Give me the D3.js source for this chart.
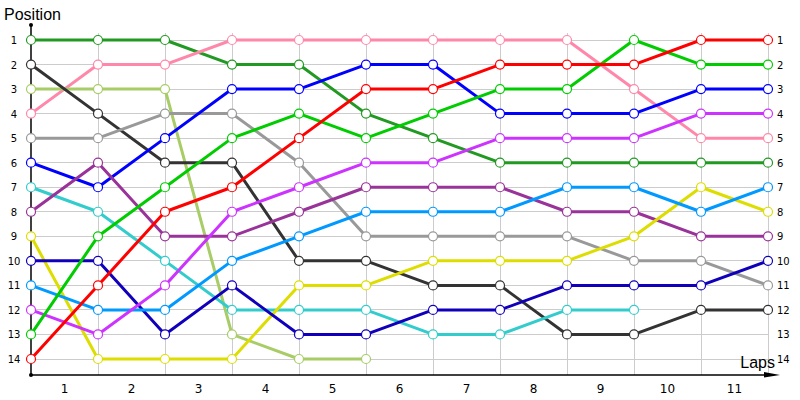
<!DOCTYPE html>
<html><head><meta charset="utf-8">
<script src="https://cdn.jsdelivr.net/npm/d3@7"></script>
<style>body{margin:0;background:#fff}svg{display:block}text{font-family:"DejaVu Sans",Verdana,sans-serif}</style>
</head><body><svg id="c" width="800" height="400"></svg>
<script>
const laps = ["1","2","3","4","5","6","7","8","9","10","11"];
const positions = [1,2,3,4,5,6,7,8,9,10,11,12,13,14];
const seriesNames = ["DarkGreen","Pink","LightGreen","Black","Gray","Blue","Cyan","Purple","Yellow","DarkBlue","LightBlue","Violet","Green","Red"];
const seriesColors = ["#229922","#ff88aa","#a8cc66","#333333","#999999","#0000ff","#33cccc","#993399","#dddd00","#1100bb","#0099ff","#cc33ff","#00cc00","#ff0000"];
const darkGreen = [1,1,1,2,2,4,5,6,6,6,6,6];
const pink = [4,2,2,1,1,1,1,1,1,3,5,5];
const lightGreen = [3,3,3,13,14,14];
const black = [2,4,6,6,10,10,11,11,13,13,12,12];
const gray = [5,5,4,4,6,9,9,9,9,10,10,11];
const blue = [6,7,5,3,3,2,2,4,4,4,3,3];
const cyan = [7,8,10,12,12,12,13,13,12,12];
const purple = [8,6,9,9,8,7,7,7,8,8,9,9];
const yellow = [9,14,14,14,11,11,10,10,10,9,7,8];
const darkBlue = [10,10,13,11,13,13,12,12,11,11,11,10];
const lightBlue = [11,12,12,10,9,8,8,8,7,7,8,7];
const violet = [12,13,11,8,7,6,6,5,5,5,4,4];
const green = [13,9,7,5,4,5,4,3,3,1,2,2];
const red = [14,11,8,7,5,3,3,2,2,2,1,1];
const seriesValues = [darkGreen,pink,lightGreen,black,gray,blue,cyan,purple,yellow,darkBlue,lightBlue,violet,green,red];

const svg = d3.select("#c");
const x = d3.scaleLinear().domain([0,11]).range([31,768]);
const y = d3.scaleLinear().domain([1,14]).range([40,359]);
const axisY = 375;

const grid = svg.append("g");
grid.selectAll("line.h").data(positions).join("line")
  .attr("x1",x(0)).attr("x2",x(11)).attr("y1",d=>y(d)).attr("y2",d=>y(d))
  .attr("stroke","#cccccc").attr("stroke-width",1).attr("shape-rendering","crispEdges");
grid.selectAll("line.v").data(d3.range(1,12)).join("line")
  .attr("x1",d=>x(d)).attr("x2",d=>x(d)).attr("y1",33).attr("y2",axisY)
  .attr("stroke","#cccccc").attr("stroke-width",1).attr("shape-rendering","crispEdges");

// axes
svg.append("line").attr("x1",x(0)).attr("x2",x(0)).attr("y1",25).attr("y2",axisY)
  .attr("stroke","#000").attr("stroke-width",1.5);
svg.append("circle").attr("cx",x(0)).attr("cy",25).attr("r",2).attr("fill","#000");
svg.append("circle").attr("cx",x(0)).attr("cy",axisY).attr("r",2).attr("fill","#000");
svg.append("line").attr("x1",x(0)).attr("x2",772).attr("y1",axisY).attr("y2",axisY)
  .attr("stroke","#000").attr("stroke-width",1.5);
svg.append("path").attr("d",`M764,${axisY-3} L780,${axisY} L764,${axisY+2.5} Z`).attr("fill","#000");

// lap labels
svg.selectAll("text.lap").data(laps).join("text")
  .attr("x",(d,i)=>x(i+0.5)).attr("y",393).attr("text-anchor","middle")
  .attr("font-size",12).attr("fill","#000").text(d=>d);

// position labels
svg.selectAll("text.pl").data(positions).join("text")
  .attr("x",14).attr("y",d=>y(d)+4).attr("text-anchor","middle")
  .attr("font-size",10).attr("fill","#000").text(d=>d);
svg.selectAll("text.pr").data(positions).join("text")
  .attr("x",777).attr("y",d=>y(d)+4).attr("text-anchor","start")
  .attr("font-size",10).attr("fill","#000").text(d=>d);

svg.append("text").attr("x",4).attr("y",20).attr("font-size",16).attr("fill","#000")
  .style("font-family","'Liberation Sans',Arial,sans-serif").text("Position");
svg.append("text").attr("x",775).attr("y",368).attr("text-anchor","end").attr("font-size",16).attr("fill","#000")
  .style("font-family","'Liberation Sans',Arial,sans-serif").text("Laps");

const line = d3.line().x((d,i)=>x(i)).y(d=>y(d));
seriesValues.forEach((vals,k)=>{
  svg.append("path").attr("d",line(vals)).attr("fill","none")
    .attr("stroke",seriesColors[k]).attr("stroke-width",3).attr("stroke-linejoin","round");
});
seriesValues.forEach((vals,k)=>{
  svg.append("g").selectAll("circle").data(vals).join("circle")
    .attr("cx",(d,i)=>x(i)).attr("cy",d=>y(d)).attr("r",4.5)
    .attr("fill","#fff").attr("stroke",seriesColors[k]).attr("stroke-width",1.2);
});
</script></body></html>
